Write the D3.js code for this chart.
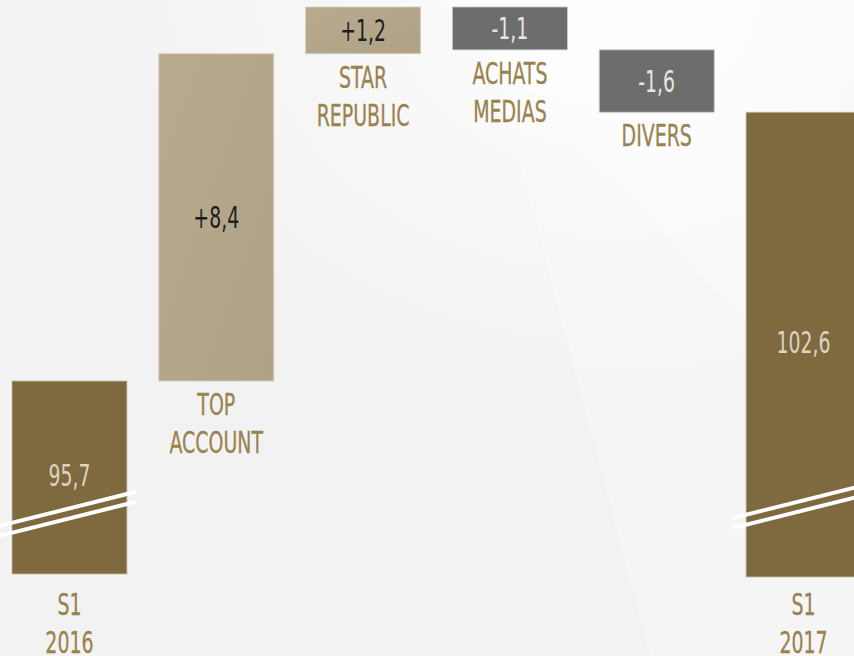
<!DOCTYPE html>
<html>
<head>
<meta charset="utf-8">
<script src="https://cdn.jsdelivr.net/npm/d3@7"></script>
<style>
  html, body { margin: 0; padding: 0; background: #f2f2f2; overflow: hidden; }
  text { font-family: "Liberation Sans Narrow", "DejaVu Sans Condensed", "Roboto", sans-serif; }
</style>
</head>
<body>
<div id="wrapper"></div>
<script>
// data
const categories = ["S1 2016", "TOP ACCOUNT", "STAR REPUBLIC", "ACHATS MEDIAS", "DIVERS", "S1 2017"]
const labelLines = [["S1", "2016"], ["TOP", "ACCOUNT"], ["STAR", "REPUBLIC"], ["ACHATS", "MEDIAS"], ["DIVERS"], ["S1", "2017"]]
const values = [95.7, 8.4, 1.2, -1.1, -1.6, 102.6]
const kinds = ["total", "delta", "delta", "delta", "delta", "total"]
const valueLabels = ["95,7", "+8,4", "+1,2", "-1,1", "-1,6", "102,6"]

function drawWaterfall() {
    const width = 854
    const height = 656

    const svg = d3.select("#wrapper")
        .append("svg")
        .attr("width", width)
        .attr("height", height)

    // background with soft light rays
    const defs = svg.append("defs")
    const glow = defs.append("radialGradient")
        .attr("id", "glow")
        .attr("cx", "0.72").attr("cy", "0").attr("r", "0.6")
    glow.append("stop").attr("offset", "0%").attr("stop-color", "#ffffff").attr("stop-opacity", 0.9)
    glow.append("stop").attr("offset", "100%").attr("stop-color", "#ffffff").attr("stop-opacity", 0)

    const tan = defs.append("linearGradient")
        .attr("id", "tan")
        .attr("x1", "0").attr("y1", "0").attr("x2", "1").attr("y2", "1")
    tan.append("stop").attr("offset", "0%").attr("stop-color", "#b8aa8f")
    tan.append("stop").attr("offset", "100%").attr("stop-color", "#b0a287")

    svg.append("rect").attr("width", width).attr("height", height).attr("fill", "#f2f2f2")
    svg.append("polygon")
        .attr("points", "477,0 854,0 854,656 650,656")
        .attr("fill", "#f5f5f5")
    svg.append("polygon")
        .attr("points", "440,0 854,0 854,70 745,320 560,125")
        .attr("fill", "#f8f8f8")
    svg.append("rect").attr("width", width).attr("height", height).attr("fill", "url(#glow)")

    // scales
    const x = d3.scaleBand()
        .domain(categories)
        .range([12, 861])
        .paddingInner(0.217)
        .paddingOuter(0)

    // running totals for the floating bars
    let running = 0
    const bars = categories.map((c, i) => {
        let lo, hi
        if (kinds[i] === "total") {
            running = values[i]
            lo = null
            hi = values[i]
        } else {
            const start = running
            running += values[i]
            lo = Math.min(start, running)
            hi = Math.max(start, running)
        }
        return { cat: c, i: i, lo: lo, hi: hi, v: values[i], kind: kinds[i] }
    })

    const y = d3.scaleLinear()
        .domain([95.7, d3.max(bars, d => d.hi)])
        .range([381, 7])

    const brokenBottom = 575 // totals are drawn on a broken axis

    const fillFor = d => d.kind === "total" ? "#7f6a40" : (d.v > 0 ? "url(#tan)" : "#6d6d6d")
    const strokeFor = d => d.kind === "total" ? "#c9bda5" : (d.v > 0 ? "#d8cfbf" : "#c8c8c8")
    const textFor = d => d.kind === "total" ? "#ddd4c2" : (d.v > 0 ? "#1e1e1e" : "#e6e6e6")

    const barTop = d => y(d.hi)
    const barBottom = d => d.lo === null ? brokenBottom + (d.i === 5 ? 2 : -1) : y(d.lo)

    const groups = svg.append("g").selectAll("g")
        .data(bars)
        .enter()
        .append("g")

    groups.append("rect")
        .attr("x", d => x(d.cat))
        .attr("y", d => barTop(d))
        .attr("width", x.bandwidth())
        .attr("height", d => barBottom(d) - barTop(d))
        .attr("fill", fillFor)
        .attr("stroke", strokeFor)
        .attr("stroke-width", 0.8)

    // axis break marks on the totals
    const breakLift = [48, 59]
    groups.filter(d => d.kind === "total").each(function (d, k) {
        const g = d3.select(this)
        const x0 = x(d.cat) - 13
        const x1 = x(d.cat) + x.bandwidth() + 9
        const yb = barBottom(d) - breakLift[k]
        const rise = (x1 - x0) * 0.25
        ;[0, 10].forEach(off => {
            g.append("line")
                .attr("x1", x0).attr("y1", yb + off)
                .attr("x2", x1).attr("y2", yb + off - rise)
                .attr("stroke", "#ffffff")
                .attr("stroke-width", 4)
        })
    })

    // value labels
    groups.append("text")
        .attr("x", d => x(d.cat) + x.bandwidth() / 2)
        .attr("y", d => d.kind === "total" ? (barTop(d) + barBottom(d)) / 2 - 2 : (barTop(d) + barBottom(d)) / 2)
        .attr("dy", "0.36em")
        .attr("text-anchor", "middle")
        .attr("font-size", "30px")
        .attr("fill", textFor)
        .attr("transform", d => {
            const cx = x(d.cat) + x.bandwidth() / 2
            return `translate(${cx},0) scale(0.7,1) translate(${-cx},0)`
        })
        .text(d => valueLabels[d.i])

    // category labels
    groups.each(function (d) {
        const cx = x(d.cat) + x.bandwidth() / 2
        const base = d.kind === "total" ? 615 : barBottom(d) + 34
        const t = d3.select(this).append("text")
            .attr("text-anchor", "middle")
            .attr("font-size", "31px")
            .attr("fill", "#9a824e")
            .attr("stroke", "#9a824e")
            .attr("stroke-width", 0.3)
            .attr("transform", `translate(${cx},0) scale(0.68,1) translate(${-cx},0)`)
        labelLines[d.i].forEach((line, j) => {
            t.append("tspan")
                .attr("x", cx)
                .attr("y", base + j * 38)
                .text(line)
        })
    })
}

drawWaterfall()
</script>
</body>
</html>
